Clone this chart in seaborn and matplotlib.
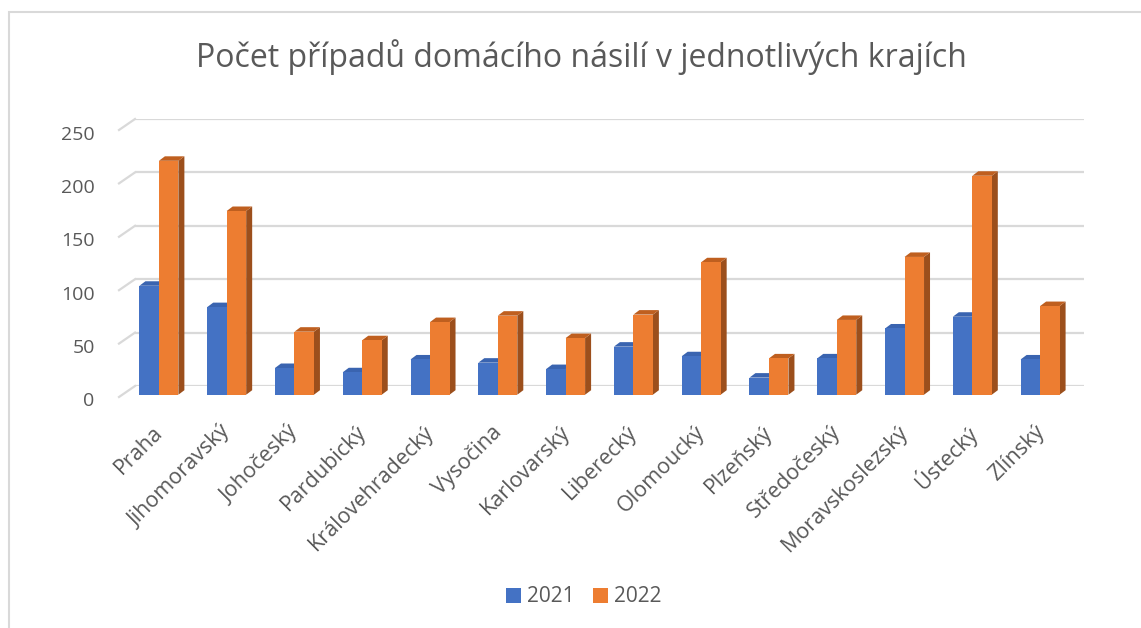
import numpy as np
import pandas as pd
import matplotlib
matplotlib.use("Agg")
import matplotlib.pyplot as plt
import seaborn as sns
from matplotlib.patches import Polygon, Rectangle, Patch
from matplotlib.lines import Line2D
from matplotlib.transforms import ScaledTranslation, IdentityTransform

KRAJE = [
    "Praha", "Jihomoravský", "Johočeský", "Pardubický", "Královehradecký",
    "Vysočina", "Karlovarský", "Liberecký", "Olomoucký", "Plzeňský",
    "Středočeský", "Moravskoslezský", "Ústecký", "Zlínský",
]
ROK_2021 = [102, 82, 25, 21, 33, 30, 24, 45, 36, 16, 34, 62, 73, 33]
ROK_2022 = [219, 172, 59, 51, 68, 74, 53, 75, 124, 34, 70, 129, 205, 83]
ROKY = ["2021", "2022"]
Y_TICKS = [0, 50, 100, 150, 200, 250]
TITLE = "Počet případů domácího násilí v jednotlivých krajích"

BLUE, ORANGE = "#4472C4", "#ED7D31"
SIDE = ["#2F5597", "#9C4F1C"]
TOP = ["#3A64B0", "#BF5F1F"]
TEXT = "#595959"
GRID = "#D9D9D9"

W, H, DPI = 1141, 628, 100

plt.rcParams["font.family"] = ["Open Sans", "DejaVu Sans"]

df = pd.DataFrame({
    "kraj": KRAJE * 2,
    "pocet": ROK_2021 + ROK_2022,
    "rok": [ROKY[0]] * len(KRAJE) + [ROKY[1]] * len(KRAJE),
})

fig = plt.figure(figsize=(W / DPI, H / DPI), dpi=DPI)
# axes = back wall of the 3d plot area (pixel box 135..1084 x 119..386)
ax = fig.add_axes([135 / W, 1 - 386 / H, 949 / W, 267 / H])

sns.barplot(data=df, x="kraj", y="pocet", hue="rok", palette=[BLUE, ORANGE],
            width=0.575, gap=0, saturation=1, linewidth=0, legend=False, ax=ax)

ax.set_xlim(-0.5, len(KRAJE) - 0.5)
ax.set_ylim(0, 250)
for s in ax.spines.values():
    s.set_visible(False)
ax.set_xlabel("")
ax.set_ylabel("")

for t in Y_TICKS:
    ax.axhline(t, color=GRID, lw=1.6, zorder=0.5)
    p = ax.transData.transform((-0.5, t))
    ax.add_line(Line2D([p[0], p[0] - 16], [p[1], p[1] - 11], color=GRID, lw=1.6,
                       transform=IdentityTransform(), clip_on=False, zorder=0.5))

# bars sit in front of the back wall; draw their side and top faces
front = ax.transData + ScaledTranslation(-0.10, -0.087, fig.dpi_scale_trans)
dx, dy = 6, 4.5
for i, cont in enumerate(ax.containers):
    for bar in cont:
        bar.set_transform(front)
        bar.set_clip_on(False)
        bar.set_zorder(3)
        x0, x1 = bar.get_x(), bar.get_x() + bar.get_width()
        (X0, Y0), (X1, Y1) = front.transform([(x0, 0), (x1, bar.get_height())])
        side = Polygon([(X1, Y0), (X1, Y1), (X1 + dx, Y1 + dy), (X1 + dx, Y0 + dy)],
                       closed=True, fc=SIDE[i], ec="none",
                       transform=IdentityTransform(), clip_on=False, zorder=2.5)
        top = Polygon([(X0, Y1), (X1, Y1), (X1 + dx, Y1 + dy), (X0 + dx, Y1 + dy)],
                      closed=True, fc=TOP[i], ec="none",
                      transform=IdentityTransform(), clip_on=False, zorder=2.5)
        ax.add_patch(side)
        ax.add_patch(top)

ax.set_yticks(Y_TICKS)
ax.tick_params(axis="y", length=0, pad=29, labelsize=14, labelcolor=TEXT)
ax.set_xticks(range(len(KRAJE)))
ax.set_xticklabels(KRAJE, rotation=45, ha="right", va="center", rotation_mode="anchor")
ax.tick_params(axis="x", length=0, pad=31, labelsize=15.5, labelcolor=TEXT)
for lbl in ax.get_yticklabels():
    lbl.set_transform(lbl.get_transform() + ScaledTranslation(0, -0.135, fig.dpi_scale_trans))
for lbl in ax.get_xticklabels():
    lbl.set_transform(lbl.get_transform() + ScaledTranslation(-0.09, 0, fig.dpi_scale_trans))

fig.text(581 / W, 1 - 66.7 / H, TITLE, ha="center", va="baseline",
         fontsize=23, color=TEXT)

handles = [Patch(fc=BLUE, ec="none"), Patch(fc=ORANGE, ec="none")]
fig.legend(handles, ROKY, loc="center", bbox_to_anchor=(584 / W, 1 - 597 / H),
           ncol=2, frameon=False, fontsize=15, labelcolor=TEXT,
           handlelength=0.7, handleheight=0.7, handletextpad=0.3, columnspacing=0.9)

# chart frame (left and top edges visible in the reference)
fig.add_artist(Rectangle((9, -20), 1300, H - 12 + 20, fill=False, ec=GRID, lw=1.5,
                         transform=IdentityTransform(), clip_on=False))

fig.savefig("out.png", dpi=DPI, facecolor="white")
